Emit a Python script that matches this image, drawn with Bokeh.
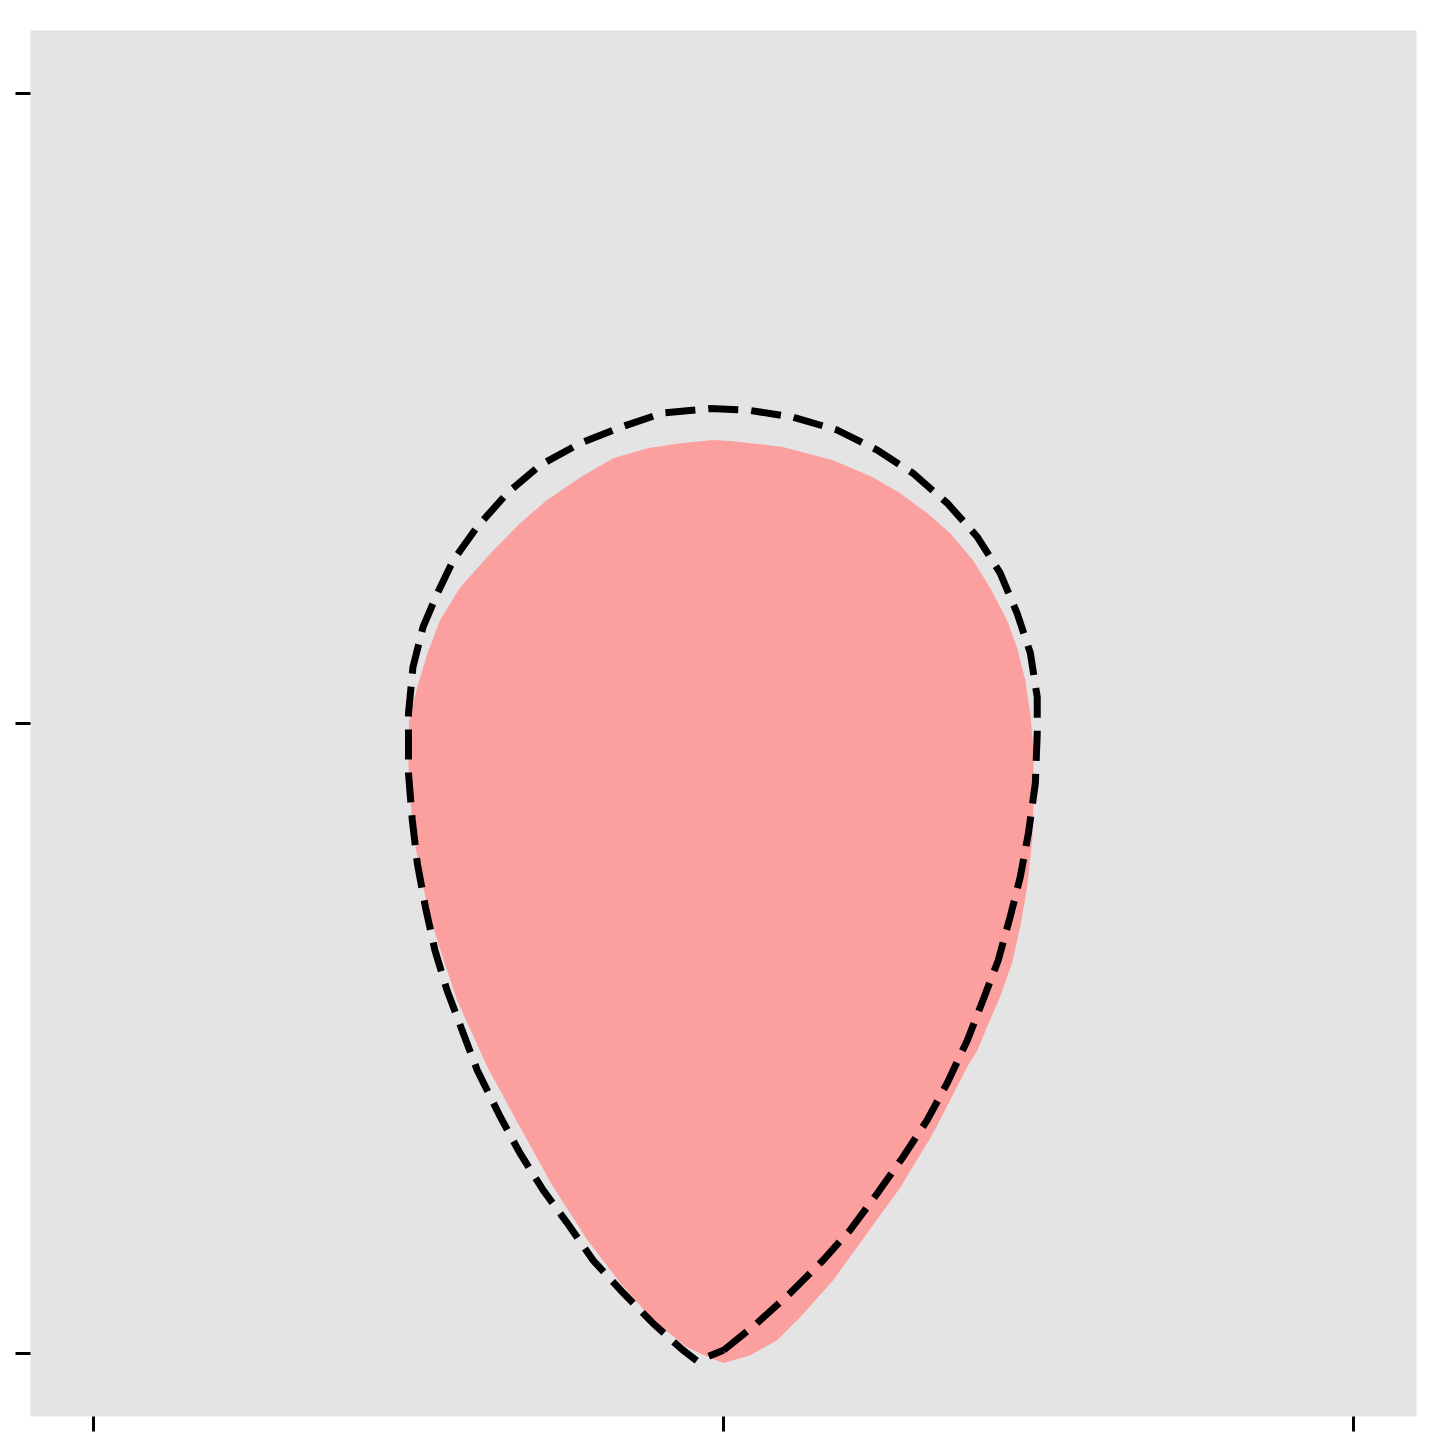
from bokeh.plotting import figure
from bokeh.models import Range1d, FixedTicker
from bokeh.embed import file_html
from bokeh.resources import INLINE

# Filled shape (data units)
fill_x = [0.000, -0.021, -0.058, -0.112, -0.164, -0.216, -0.270, -0.323, -0.375, -0.423,
          -0.444, -0.466, -0.481, -0.493, -0.497, -0.501, -0.499, -0.486, -0.470, -0.450,
          -0.418, -0.370, -0.323, -0.281, -0.227, -0.175, -0.121, -0.069, -0.016, 0.015,
          0.094, 0.174, 0.237, 0.280, 0.323, 0.360, 0.396, 0.423, 0.450, 0.466,
          0.479, 0.487, 0.492, 0.492, 0.490, 0.482, 0.471, 0.458, 0.439, 0.418,
          0.403, 0.387, 0.333, 0.281, 0.228, 0.174, 0.122, 0.085, 0.042]
fill_y = [-1.015, -1.007, -0.990, -0.947, -0.888, -0.820, -0.736, -0.641, -0.545, -0.439,
          -0.376, -0.307, -0.238, -0.174, -0.122, -0.042, 0.005, 0.058, 0.111, 0.164,
          0.216, 0.270, 0.318, 0.354, 0.391, 0.421, 0.437, 0.445, 0.450, 0.448,
          0.439, 0.418, 0.391, 0.366, 0.334, 0.302, 0.259, 0.216, 0.164, 0.121,
          0.069, 0.016, -0.042, -0.122, -0.185, -0.260, -0.323, -0.380, -0.434, -0.482,
          -0.519, -0.545, -0.650, -0.736, -0.809, -0.884, -0.942, -0.979, -1.003]

# Dashed outline (data units)
line_x = [0.000, 0.053, 0.106, 0.158, 0.201, 0.244, 0.285, 0.323, 0.355, 0.387,
          0.412, 0.436, 0.455, 0.471, 0.484, 0.495, 0.498, 0.498, 0.487, 0.466,
          0.439, 0.403, 0.355, 0.301, 0.244, 0.180, 0.111, 0.042, -0.021, -0.096,
          -0.164, -0.227, -0.291, -0.343, -0.391, -0.429, -0.454, -0.477, -0.493, -0.500,
          -0.500, -0.494, -0.486, -0.473, -0.458, -0.439, -0.413, -0.391, -0.354, -0.323,
          -0.286, -0.248, -0.207, -0.159, -0.112, -0.064, -0.042, 0.000]
line_y = [-0.995, -0.952, -0.904, -0.852, -0.804, -0.746, -0.688, -0.630, -0.571, -0.503,
          -0.439, -0.376, -0.307, -0.244, -0.174, -0.095, -0.015, 0.042, 0.112, 0.175,
          0.239, 0.296, 0.350, 0.397, 0.434, 0.466, 0.486, 0.497, 0.500, 0.493,
          0.470, 0.445, 0.410, 0.366, 0.312, 0.259, 0.207, 0.153, 0.089, 0.016,
          -0.079, -0.153, -0.222, -0.292, -0.360, -0.423, -0.492, -0.550, -0.625, -0.682,
          -0.741, -0.793, -0.852, -0.904, -0.952, -0.995, -1.012, -0.995]

ticks = [-1, 0, 1]

p = figure(width=1446, height=1446, output_backend="svg", toolbar_location=None,
           x_range=Range1d(-1.1, 1.1), y_range=Range1d(-1.1, 1.1),
           min_border_left=30, min_border_right=30, min_border_top=30, min_border_bottom=30)
p.background_fill_color = "#E4E4E4"
p.border_fill_color = "white"
p.outline_line_color = None
p.grid.visible = False

for ax in (p.xaxis[0], p.yaxis[0]):
    ax.ticker = FixedTicker(ticks=ticks)
    ax.axis_line_color = None
    ax.major_tick_line_color = "black"
    ax.major_tick_line_width = 3
    ax.major_tick_out = 15
    ax.major_tick_in = 0
    ax.minor_tick_line_color = None
    ax.major_label_text_font_size = "0px"
    ax.major_label_standoff = 0

p.patch(fill_x, fill_y, fill_color="#FC9F9F", line_color=None)
p.line(line_x, line_y, line_color="black", line_width=7, line_dash="30 13",
       line_cap="butt", line_join="miter")

open("out.html", "w").write(file_html(p, INLINE))
